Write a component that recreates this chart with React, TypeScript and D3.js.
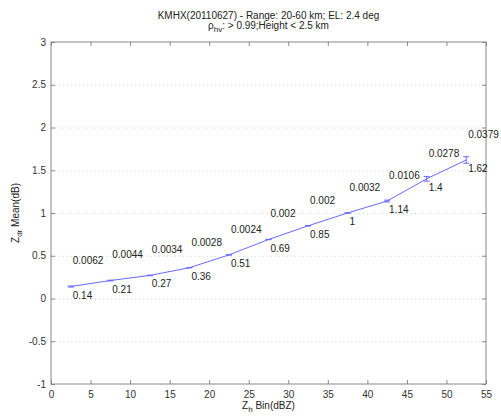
import React, { useRef, useEffect } from 'react';
import * as d3 from 'd3';

const bins = [2.5, 7.5, 12.5, 17.5, 22.5, 27.5, 32.5, 37.5, 42.5, 47.5, 52.5];
const means = [0.14, 0.21, 0.27, 0.36, 0.51, 0.69, 0.85, 1, 1.14, 1.4, 1.62];
const errs = [0.0062, 0.0044, 0.0034, 0.0028, 0.0024, 0.002, 0.002, 0.0032, 0.0106, 0.0278, 0.0379];
const xTicks = [0, 5, 10, 15, 20, 25, 30, 35, 40, 45, 50, 55];
const yTicks = [-1, -0.5, 0, 0.5, 1, 1.5, 2, 2.5, 3];

const W = 501, H = 419;
const margin = { top: 42, right: 15, bottom: 35, left: 51 };

const App = () => {
  const ref = useRef<SVGSVGElement>(null);

  useEffect(() => {
    const svg = d3.select(ref.current);
    svg.selectAll('*').remove();
    const iw = W - margin.left - margin.right;
    const ih = H - margin.top - margin.bottom;
    const font = 'Liberation Sans, Arial, sans-serif';

    const x = d3.scaleLinear().domain([0, 55]).range([0, iw]);
    const y = d3.scaleLinear().domain([-1, 3]).range([ih, 0]);

    const g = svg.append('g').attr('transform', `translate(${margin.left},${margin.top})`);

    // grid
    g.selectAll('.grid').data(yTicks.slice(1, -1)).enter().append('line')
      .attr('x1', 0).attr('x2', iw)
      .attr('y1', d => y(d) + 0.5).attr('y2', d => y(d) + 0.5)
      .attr('stroke', '#d0d0d0').attr('stroke-dasharray', '1,3');

    // axes
    const axStyle = (sel: any) => {
      sel.select('.domain').remove();
      sel.selectAll('line').attr('stroke', '#888');
      sel.selectAll('text').attr('fill', '#333').style('font-family', font).style('font-size', '10px');
    };
    g.append('g').attr('transform', `translate(0,${ih})`)
      .call(d3.axisBottom(x).tickValues(xTicks).tickSize(-4).tickPadding(7).tickFormat(d => String(d)))
      .call(axStyle);
    g.append('g')
      .call(d3.axisTop(x).tickValues(xTicks).tickSize(-4).tickFormat(() => ''))
      .call(axStyle);
    g.append('g')
      .call(d3.axisLeft(y).tickValues(yTicks).tickSize(-4).tickPadding(5).tickFormat(d => String(d)))
      .call(axStyle);
    g.append('g').attr('transform', `translate(${iw},0)`)
      .call(d3.axisRight(y).tickValues(yTicks).tickSize(-4).tickFormat(() => ''))
      .call(axStyle);
    g.append('rect').attr('x', 0).attr('y', 0).attr('width', iw).attr('height', ih)
      .attr('fill', 'none').attr('stroke', '#888');

    // line
    const pts = bins.map((b, i) => ({ b, m: means[i], e: errs[i] }));
    g.append('path').datum(pts)
      .attr('fill', 'none').attr('stroke', '#6a6aff').attr('stroke-width', 1)
      .attr('d', d3.line<any>().x(d => x(d.b)).y(d => y(d.m)));

    // error bars
    const eb = g.selectAll('.eb').data(pts).enter().append('g')
      .attr('stroke', '#6a6aff').attr('stroke-width', 1);
    eb.append('line').attr('x1', d => x(d.b)).attr('x2', d => x(d.b))
      .attr('y1', d => y(d.m - d.e)).attr('y2', d => y(d.m + d.e));
    eb.append('line').attr('x1', d => x(d.b) - 3).attr('x2', d => x(d.b) + 3)
      .attr('y1', d => y(d.m - d.e)).attr('y2', d => y(d.m - d.e));
    eb.append('line').attr('x1', d => x(d.b) - 3).attr('x2', d => x(d.b) + 3)
      .attr('y1', d => y(d.m + d.e)).attr('y2', d => y(d.m + d.e));

    // labels
    g.selectAll('.lu').data(pts).enter().append('text')
      .attr('x', d => x(d.b + 0.25)).attr('y', d => y(d.m + 0.3)).attr('dy', '0.35em')
      .attr('fill', '#222').style('font-family', font).style('font-size', '10px')
      .text(d => String(d.e));
    g.selectAll('.ll').data(pts).enter().append('text')
      .attr('x', d => x(d.b + 0.25)).attr('y', d => y(d.m - 0.1)).attr('dy', '0.35em')
      .attr('fill', '#222').style('font-family', font).style('font-size', '10px')
      .text(d => String(d.m));

    // titles
    const cx = margin.left + iw / 2;
    svg.append('text').attr('x', cx).attr('y', 19).attr('text-anchor', 'middle')
      .attr('fill', '#222').style('font-family', font).style('font-size', '10px')
      .text('KMHX(20110627) - Range: 20-60 km; EL: 2.4 deg');
    const t2 = svg.append('text').attr('x', cx).attr('y', 29).attr('text-anchor', 'middle')
      .attr('fill', '#222').style('font-family', font).style('font-size', '10px');
    t2.append('tspan').text('ρ');
    t2.append('tspan').attr('dy', 3).style('font-size', '8px').text('hv');
    t2.append('tspan').attr('dy', -3).text(': > 0.99;Height < 2.5 km');

    const xl = svg.append('text').attr('x', cx).attr('y', 409).attr('text-anchor', 'middle')
      .attr('fill', '#222').style('font-family', font).style('font-size', '10px');
    xl.append('tspan').text('Z');
    xl.append('tspan').attr('dy', 3).style('font-size', '8px').text('h');
    xl.append('tspan').attr('dy', -3).text(' Bin(dBZ)');

    const yl = svg.append('text').attr('transform', `translate(19,${margin.top + ih / 2}) rotate(-90)`)
      .attr('text-anchor', 'middle')
      .attr('fill', '#222').style('font-family', font).style('font-size', '10px');
    yl.append('tspan').text('Z');
    yl.append('tspan').attr('dy', 3).style('font-size', '8px').text('dr');
    yl.append('tspan').attr('dy', -3).text(' Mean(dB)');
  }, []);

  return <svg ref={ref} width={W} height={H} style={{ position: 'absolute', left: 0, top: 0, background: '#fff' }} />;
};

export default App;
